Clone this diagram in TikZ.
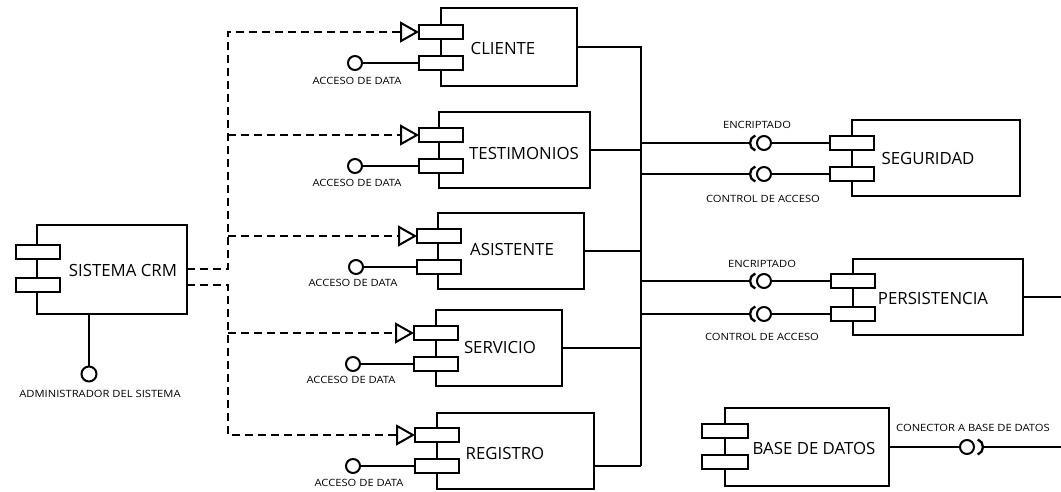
\documentclass[tikz,border=0pt]{standalone}
\usepackage{fontspec}
\setmainfont{Open Sans}
\newfontfamily\labelfont[FakeStretch=1.12]{Open Sans}
\usetikzlibrary{arrows.meta}

\tikzset{
  wire/.style={line width=2.3pt, black},
  dashwire/.style={line width=2.3pt, black, dash pattern=on 8pt off 5pt,
    -{Triangle[open, length=19pt, width=21pt, line width=2pt]}},
  body/.style={draw, line width=2.3pt, inner sep=0pt, outer sep=0pt},
  port/.style={draw, fill=white, line width=2.3pt, inner sep=0pt, outer sep=0pt,
    minimum width=44pt, minimum height=14pt},
  ball/.style={draw, fill=white, circle, line width=2pt, inner sep=0pt, outer sep=0pt,
    minimum size=14pt},
  cname/.style={font=\fontsize{16.8}{19}\selectfont, inner sep=0pt},
  small/.style={font=\labelfont\fontsize{10}{12}\selectfont, inner sep=0pt}
}

\begin{document}
\begin{tikzpicture}[x=1pt, y=-1pt]
\useasboundingbox (0,0) rectangle (1061,491);
\fill[white] (0,0) rectangle (1061,491);

% ---------- component bodies ----------
\node[body, minimum width=150pt, minimum height=89pt] (crm) at (112,269.5) {};
\node[body, minimum width=136pt, minimum height=78pt] (cliente) at (509,47) {};
\node[body, minimum width=151pt, minimum height=76pt] (testimonios) at (514.5,150) {};
\node[body, minimum width=146pt, minimum height=76pt] (asistente) at (511,251) {};
\node[body, minimum width=126pt, minimum height=76pt] (servicio) at (499,348) {};
\node[body, minimum width=157pt, minimum height=76pt] (registro) at (515.5,451) {};
\node[body, minimum width=168pt, minimum height=76pt] (seguridad) at (936,158) {};
\node[body, minimum width=170pt, minimum height=76pt] (persistencia) at (938,297) {};
\node[body, minimum width=164pt, minimum height=78pt] (basedatos) at (807,447) {};

% ---------- component ports ----------
\node[port] (crmP1) at (38,252) {};
\node[port] (crmP2) at (38,285) {};
\node[port] (cliP1) at (441,32) {};
\node[port] (cliP2) at (441,63) {};
\node[port] (tesP1) at (441,135) {};
\node[port] (tesP2) at (441,166) {};
\node[port] (asiP1) at (439,236) {};
\node[port] (asiP2) at (439,267) {};
\node[port] (serP1) at (436,333) {};
\node[port] (serP2) at (436,364) {};
\node[port] (regP1) at (437,435) {};
\node[port] (regP2) at (437,466) {};
\node[port] (segP1) at (852,143) {};
\node[port] (segP2) at (852,174) {};
\node[port] (perP1) at (853,281) {};
\node[port] (perP2) at (853,314) {};
\node[port, minimum width=46pt] (bdP1) at (725,431) {};
\node[port, minimum width=46pt] (bdP2) at (725,462) {};

% ---------- component names ----------
\node[cname] (tcrm) at (123,270) {SISTEMA CRM};
\node[cname] (tcli) at (503,48) {CLIENTE};
\node[cname] (ttes) at (524,153) {TESTIMONIOS};
\node[cname] (tasi) at (512,249) {ASISTENTE};
\node[cname] (tser) at (500,347) {SERVICIO};
\node[cname] (treg) at (505,453) {REGISTRO};
\node[cname] (tseg) at (928,158) {SEGURIDAD};
\node[cname] (tper) at (933,298) {PERSISTENCIA};
\node[cname] (tbd) at (814,448) {BASE DE DATOS};

% ---------- administrator interface ----------
\node[ball, minimum size=15pt] (adm) at (89,374) {};
\draw[wire] (crm.south -| adm) -- (adm);
\node[small] (ladm) at (100,394) {ADMINISTRADOR DEL SISTEMA};

% ---------- dependencies from the CRM system ----------
\coordinate (crmA) at (187,269);
\coordinate (crmB) at (187,285);
\coordinate (jA) at (228,269);
\coordinate (jB) at (228,285);
\draw[dashwire] (crmA) -- (jA) |- (cliP1.west);
\draw[dashwire] (jA |- tesP1.west) -- (tesP1.west);
\draw[dashwire] (jA |- asiP1.west) -- (asiP1.west);
\draw[dashwire] (crmB) -- (jB) |- (regP1.west);
\draw[dashwire] (jB |- serP1.west) -- (serP1.west);

% ---------- provided data interfaces ----------
\node[ball] (dCli) at (355,63) {};
\node[ball] (dTes) at (355,166) {};
\node[ball] (dAsi) at (356,267) {};
\node[ball] (dSer) at (353,364) {};
\node[ball] (dReg) at (353,466) {};
\draw[wire] (dCli) -- (cliP2);
\draw[wire] (dTes) -- (tesP2);
\draw[wire] (dAsi) -- (asiP2);
\draw[wire] (dSer) -- (serP2);
\draw[wire] (dReg) -- (regP2);
\node[small] (lCli) at (357,81) {ACCESO DE DATA};
\node[small] (lTes) at (357,183) {ACCESO DE DATA};
\node[small] (lAsi) at (353,283) {ACCESO DE DATA};
\node[small] (lSer) at (351,380) {ACCESO DE DATA};
\node[small] (lReg) at (359,483) {ACCESO DE DATA};

% ---------- bus on the right of the front components ----------
\coordinate (busBot) at (641,466);
\draw[wire] (cliente.east) -| (busBot);
\draw[wire] (registro.east |- regP2.center) -- (busBot);
\draw[wire] (testimonios.east) -- (testimonios.east -| busBot);
\draw[wire] (asistente.east) -- (asistente.east -| busBot);
\draw[wire] (servicio.east) -- (servicio.east -| busBot);

% ---------- required / provided interfaces to SEGURIDAD and PERSISTENCIA ----------
\coordinate (sk1) at (750,143);
\coordinate (sk2) at (750,174);
\coordinate (sk3) at (750,281);
\coordinate (sk4) at (750,314);
\node[ball] (bl1) at (764,143) {};
\node[ball] (bl2) at (764,174) {};
\node[ball] (bl3) at (764,281) {};
\node[ball] (bl4) at (764,314) {};
\foreach \k/\p in {1/segP1,2/segP2,3/perP1,4/perP2}{
  \draw[wire] (\p.west -| busBot) -- (sk\k);
  \draw[wire] (sk\k) arc[start angle=180, end angle=110, radius=8pt];
  \draw[wire] (sk\k) arc[start angle=180, end angle=250, radius=8pt];
  \draw[wire] (bl\k) -- (\p);
}
\node[small] (le1) at (757,125) {ENCRIPTADO};
\node[small] (lc1) at (763,199) {CONTROL DE ACCESO};
\node[small] (le2) at (762,264) {ENCRIPTADO};
\node[small] (lc2) at (762,337) {CONTROL DE ACCESO};

% ---------- PERSISTENCIA output and database connector ----------
\coordinate (edgeP) at (1061,297);
\draw[wire] (persistencia.east) -- (edgeP);
\node[ball] (bl5) at (967,447) {};
\coordinate (sk5) at (983,447);
\coordinate (edgeB) at (1061,447);
\draw[wire] (basedatos.east) -- (bl5);
\draw[wire] (sk5) arc[start angle=0, end angle=70, radius=8pt];
\draw[wire] (sk5) arc[start angle=0, end angle=-70, radius=8pt];
\draw[wire] (sk5) -- (edgeB);
\node[small] (lbd) at (973,428) {CONECTOR A BASE DE DATOS};
\end{tikzpicture}
\end{document}
